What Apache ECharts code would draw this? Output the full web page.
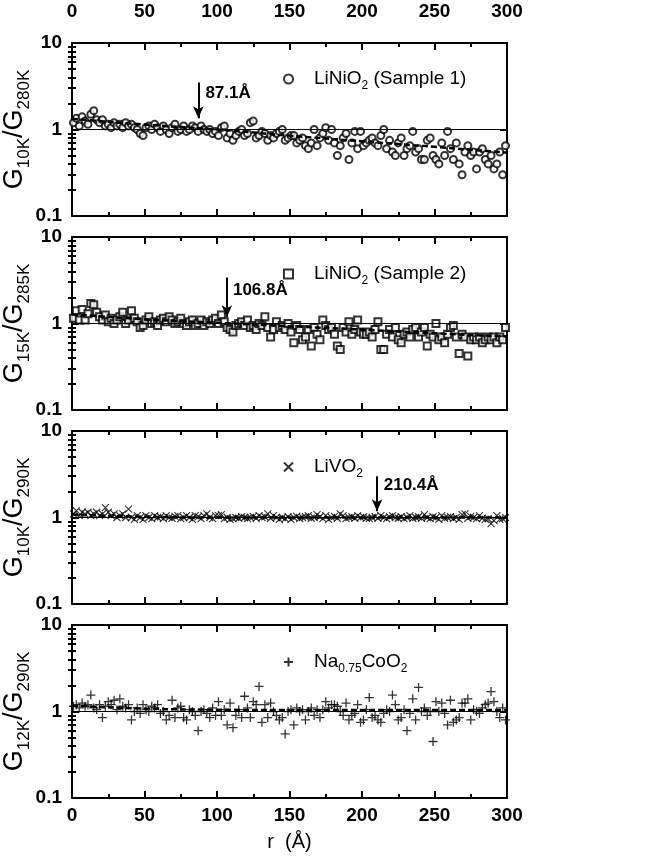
<!DOCTYPE html>
<html><head><meta charset="utf-8">
<script src="https://cdn.jsdelivr.net/npm/echarts@6/dist/echarts.min.js"></script>
<style>html,body{margin:0;padding:0;background:#fff}#c{width:647px;height:863px}</style>
</head><body><div id="c"></div>
<script>
// ---------- data ----------
const rValues = [
  1,3,5,7,9,11,13,15,17,19,
  21,23,25,27,29,31,33,35,37,39,
  41,43,45,47,49,51,53,55,57,59,
  61,63,65,67,69,71,73,75,77,79,
  81,83,85,87,89,91,93,95,97,99,
  101,103,105,107,109,111,113,115,117,119,
  121,123,125,127,129,131,133,135,137,139,
  141,143,145,147,149,151,153,155,157,159,
  161,163,165,167,169,171,173,175,177,179,
  181,183,185,187,189,191,193,195,197,199,
  201,203,205,207,209,211,213,215,217,219,
  221,223,225,227,229,231,233,235,237,239,
  241,243,245,247,249,251,253,255,257,259,
  261,263,265,267,269,271,273,275,277,279,
  281,283,285,287,289,291,293,295,297,299
];
const sample1 = [
  1.2,1.35,1.1,1.4,1.25,1.15,1.5,1.65,1.3,1.2,
  1.3,1.1,1.15,1.05,1.2,1.1,1.15,1.05,1.2,1.1,
  1.15,1.05,1.0,0.9,0.85,1.05,1.1,1.0,1.15,1.05,
  0.95,1.1,1.0,0.9,1.05,1.15,0.95,1.0,1.1,0.95,
  1.0,1.1,1.05,0.95,1.1,1.0,0.95,1.0,0.9,0.95,
  0.85,1.05,1.1,0.8,0.9,0.75,0.85,0.95,1.0,0.85,
  0.9,1.2,1.25,0.8,0.85,0.95,0.9,0.75,0.85,0.8,
  0.9,0.95,1.0,0.75,0.8,0.85,0.85,0.7,0.75,0.8,
  0.65,0.6,0.7,1.0,0.65,0.8,0.9,1.05,0.75,1.0,
  0.7,0.5,0.65,0.8,0.9,0.45,0.7,0.95,0.6,0.95,
  0.65,0.7,0.75,0.8,0.7,0.65,0.85,1.0,0.6,0.75,
  0.55,0.5,0.7,0.8,0.5,0.6,0.65,0.95,0.55,0.6,
  0.45,0.45,0.75,0.8,0.5,0.45,0.4,0.7,0.5,0.95,
  0.6,0.45,0.7,0.4,0.3,0.55,0.65,0.5,0.55,0.35,
  0.55,0.6,0.45,0.4,0.5,0.35,0.4,0.55,0.3,0.65
];
const sample2 = [
  1.15,1.4,1.1,1.45,1.1,1.3,1.7,1.65,1.35,1.2,
  1.1,1.25,1.05,1.15,1.0,1.1,1.2,1.35,1.0,1.1,
  1.4,1.15,1.05,0.9,0.95,1.1,1.2,1.0,1.05,0.95,
  1.1,1.15,1.05,1.2,1.1,1.0,1.05,1.15,1.0,0.95,
  1.05,1.1,0.95,1.0,1.1,0.95,1.05,1.0,1.1,1.15,
  1.0,1.25,1.05,0.9,0.85,0.8,0.95,1.0,1.05,0.95,
  1.1,0.9,0.95,0.85,1.0,0.95,1.2,0.9,0.7,0.85,
  1.05,0.9,0.95,0.85,1.0,0.8,0.6,0.95,0.85,0.65,
  0.7,0.85,0.55,0.9,0.75,0.65,1.1,0.95,0.85,0.9,
  0.75,0.55,0.5,0.9,0.8,1.05,0.75,0.85,1.1,0.8,
  0.75,0.75,0.8,0.7,0.85,1.05,0.5,0.5,0.75,0.85,
  0.7,0.9,0.65,0.6,0.75,0.8,0.7,0.85,0.9,0.7,
  0.8,0.9,0.55,0.75,0.7,1.0,0.65,0.7,0.6,0.75,
  0.9,0.95,0.7,0.45,0.75,0.7,0.42,0.65,0.7,0.65,
  0.7,0.6,0.65,0.7,0.65,0.7,0.6,0.7,0.65,0.9
];
const liVO2 = [
  1.1,1.2,1.05,1.15,1.1,1.15,1.05,1.1,1.15,1.05,
  1.1,1.3,1.15,1.05,1.1,1.0,1.05,1.1,1.0,1.25,
  1.0,0.95,1.05,1.0,0.95,1.05,1.0,0.97,1.05,1.0,
  1.02,0.97,1.05,1.0,0.98,1.03,1.05,0.97,1.0,1.05,
  1.0,0.95,1.05,1.02,0.97,1.05,1.1,1.0,0.97,1.05,
  1.05,1.08,0.97,1.0,0.95,0.97,1.0,0.98,1.02,1.0,
  0.97,1.0,1.03,0.98,1.05,1.0,1.02,1.1,0.98,1.05,
  1.0,0.95,1.0,0.97,1.02,0.95,1.0,1.03,0.97,1.0,
  1.02,1.05,0.98,1.0,1.08,1.02,0.97,1.05,0.95,1.0,
  1.03,0.98,1.1,1.05,0.97,1.0,1.02,0.98,1.05,1.0,
  1.02,0.98,0.97,1.0,1.03,0.98,1.05,1.0,0.97,1.02,
  1.05,1.0,0.98,1.02,0.97,1.0,1.05,0.98,1.0,1.02,
  0.98,1.08,1.0,0.97,1.02,1.0,0.95,1.05,0.98,1.0,
  1.02,0.97,1.0,0.95,1.08,1.1,0.98,1.03,1.0,0.97,
  1.05,0.98,0.95,0.97,0.85,0.92,1.05,0.95,0.97,1.0
];
const naCoO2 = [
  1.15,1.2,1.1,1.25,1.15,1.2,1.55,1.1,1.05,1.2,
  0.85,1.15,1.3,1.2,1.35,1.05,1.4,1.15,1.1,1.2,
  0.8,1.0,1.1,0.95,1.2,1.05,1.0,1.15,1.1,1.2,
  0.95,1.0,0.8,0.9,1.35,0.85,1.1,1.15,0.85,0.8,
  1.05,1.0,0.9,0.6,1.0,1.05,0.95,0.85,1.1,0.9,
  1.3,0.9,1.05,0.7,1.25,0.65,0.9,1.05,0.85,1.5,
  1.1,0.85,1.3,1.2,1.95,0.75,1.2,0.85,1.25,1.0,
  0.9,0.8,0.85,0.55,1.0,1.05,0.7,1.1,1.0,1.05,
  0.8,1.0,1.1,0.9,1.05,0.85,1.05,1.3,1.1,1.2,
  1.2,1.15,1.0,0.9,1.25,0.8,0.9,0.95,1.2,0.75,
  0.8,1.05,1.45,0.85,0.9,0.8,0.75,0.95,1.05,1.0,
  1.55,1.2,0.8,0.85,1.05,0.6,0.95,1.4,0.8,1.9,
  1.0,1.1,0.9,1.0,0.45,1.3,1.0,1.25,0.95,0.7,
  1.35,0.75,0.8,0.85,1.25,1.25,1.4,0.8,1.05,1.0,
  0.95,1.1,1.2,1.25,1.7,1.3,1.0,0.85,1.1,0.8
];
const fitR = [0, 50, 100, 150, 200, 250, 300];
const fit1 = [1.33, 1.14, 1.0, 0.85, 0.73, 0.63, 0.54];
const fit2 = [1.28, 1.12, 1.02, 0.93, 0.85, 0.77, 0.71];
const fit3 = [1.08, 1.02, 1.0, 1.0, 1.0, 1.0, 1.0];
const fit4 = [1.17, 1.08, 1.05, 1.04, 1.04, 1.04, 1.04];
const seriesNames = ['LiNiO2 (Sample 1)', 'LiNiO2 (Sample 2)', 'LiVO2', 'Na0.75CoO2'];
const legendLabels = ['LiNiO{s|2} (Sample 1)', 'LiNiO{s|2} (Sample 2)', 'LiVO{s|2}', 'Na{s|0.75}CoO{s|2}'];
const yTitles = ['G{s|10K}/G{s|280K}', 'G{s|15K}/G{s|285K}', 'G{s|10K}/G{s|290K}', 'G{s|12K}/G{s|290K}'];
const arrowR = [87.1, 106.8, 210.4, null];
const arrowTop = [3.5, 3.4, 3.0, null];
const arrowTip = [1.35, 1.18, 1.18, null];
const arrowTextPos = [[92, 2.6], [111, 2.45], [215, 2.35], null];
const arrowText = ['87.1Å', '106.8Å', '210.4Å', null];
const yMinorTicks = [0.2,0.3,0.4,0.5,0.6,0.7,0.8,0.9,2,3,4,5,6,7,8,9];

// ---------- layout / style ----------
const gridTops = [43, 237, 431, 625];
const gridH = 173;
const legendTops = [61, 256, 449, 644];
const FONT = '"Liberation Sans",Arial,Helvetica,sans-serif';
const valueSets = [sample1, sample2, liVO2, naCoO2];
const fitSets = [fit1, fit2, fit3, fit4];
const symbols = ['emptyCircle', 'emptyRect', 'path://M0,0L10,10M10,0L0,10', 'path://M5,0L5,10M0,5L10,5'];
const symbolSizes = [7, 7, 7, 9];
const strokeWidths = [1, 1, 1.1, 1.3];

const grids = [], xAxes = [], yAxes = [], series = [], legends = [];
const axLine = { show: true, onZero: false, lineStyle: { color: '#000', width: 2 } };

for (let i = 0; i < 4; i++) {
  grids.push({ left: 72, right: 140, top: gridTops[i], height: gridH, containLabel: false, outerBoundsMode: 'none' });
  ['bottom', 'top'].forEach(pos => {
    const showLbl = (pos === 'bottom' && i === 3) || (pos === 'top' && i === 0);
    const ax = {
      gridIndex: i, type: 'value', position: pos, min: 0, max: 300, interval: 50,
      axisLine: axLine,
      axisTick: { show: true, inside: true, length: 7, lineStyle: { color: '#000', width: 2 } },
      minorTick: { show: true, splitNumber: 2, length: 4, lineStyle: { color: '#000', width: 2 } },
      splitLine: { show: false },
      axisLabel: { show: showLbl, margin: pos === 'top' ? 22 : 8, color: '#000', fontSize: 19, fontWeight: 'bold', fontFamily: FONT }
    };
    if (pos === 'bottom' && i === 3) {
      ax.name = 'r  (Å)';
      ax.nameLocation = 'middle';
      ax.nameGap = 34;
      ax.nameMoveOverlap = false;
      ax.nameTextStyle = { color: '#000', fontSize: 20, fontFamily: FONT };
    }
    xAxes.push(ax);
  });
  const yBase = {
    gridIndex: i, type: 'log', logBase: 10, min: 0.1, max: 10, interval: 1,
    splitLine: { show: false }
  };
  yAxes.push(Object.assign({}, yBase, {
    position: 'left', axisLine: axLine,
    axisTick: { show: true, inside: true, length: 7, lineStyle: { color: '#000', width: 2 } },
    axisLabel: {
      show: true, margin: 10, color: '#000', fontSize: 19, fontWeight: 'bold', fontFamily: FONT,
      showMinLabel: true, showMaxLabel: true,
      formatter: v => (v > 5 ? '10' : v > 0.5 ? '1' : '0.1')
    },
    name: yTitles[i], nameLocation: 'middle', nameRotate: 90, nameGap: 39, nameMoveOverlap: false,
    nameTextStyle: {
      color: '#000', fontSize: 27, lineHeight: 36, fontFamily: FONT,
      rich: { s: { fontSize: 17, lineHeight: 17, verticalAlign: 'bottom', fontFamily: FONT, color: '#000' } }
    }
  }));
  yAxes.push(Object.assign({}, yBase, {
    position: 'left', axisLine: { show: false },
    axisTick: { show: true, inside: true, length: 4, customValues: yMinorTicks, lineStyle: { color: '#000', width: 2 } },
    axisLabel: { show: false }
  }));
  yAxes.push(Object.assign({}, yBase, {
    position: 'right', axisLine: axLine,
    axisTick: { show: true, inside: true, length: 7, lineStyle: { color: '#000', width: 2 } },
    axisLabel: { show: false }
  }));
  yAxes.push(Object.assign({}, yBase, {
    position: 'right', axisLine: { show: false },
    axisTick: { show: true, inside: true, length: 4, customValues: yMinorTicks, lineStyle: { color: '#000', width: 2 } },
    axisLabel: { show: false }
  }));

  const xi = i * 2, yi = i * 4;
  const isPath = i >= 2;
  series.push({
    name: seriesNames[i], type: 'scatter', xAxisIndex: xi, yAxisIndex: yi,
    symbol: symbols[i], symbolSize: symbolSizes[i],
    itemStyle: isPath
      ? { color: 'rgba(0,0,0,0)', borderColor: '#000', borderWidth: strokeWidths[i] }
      : { color: '#000', borderColor: '#000', borderWidth: strokeWidths[i] },
    data: rValues.map((r, k) => [r, valueSets[i][k]]),
    z: 3
  });
  const mlData = [[{ coord: [0, 1], symbol: 'none' }, { coord: [300, 1], symbol: 'none' }]];
  const mpData = [];
  if (arrowR[i] !== null) {
    mlData.push([
      { coord: [arrowR[i], arrowTop[i]], symbol: 'none', lineStyle: { width: 2, type: 'solid', color: '#000' } },
      { coord: [arrowR[i], arrowTip[i]], symbol: 'arrow', symbolSize: [8, 12] }
    ]);
    mpData.push({ coord: arrowTextPos[i], value: arrowText[i] });
  }
  series.push({
    name: 'fit' + i, type: 'line', xAxisIndex: xi, yAxisIndex: yi, smooth: true,
    symbol: 'none', z: 4,
    lineStyle: { color: '#000', width: 2.5, type: [6, 3] },
    data: fitR.map((r, k) => [r, fitSets[i][k]]),
    markLine: {
      silent: true, symbol: ['none', 'none'], animation: false,
      lineStyle: { color: '#000', width: 1, type: 'solid' },
      label: { show: false },
      data: mlData
    },
    markPoint: {
      silent: true, symbol: 'circle', symbolSize: 0, animation: false,
      label: { show: true, position: 'right', distance: 0, color: '#000', fontSize: 17, fontWeight: 'bold', fontFamily: FONT, formatter: p => p.value },
      data: mpData
    }
  });
  legends.push({
    data: [seriesNames[i]], left: 278, top: legendTops[i], orient: 'horizontal',
    itemWidth: 9, itemHeight: 9, selectedMode: false,
    formatter: name => legendLabels[seriesNames.indexOf(name)],
    textStyle: {
      color: '#000', fontSize: 19, lineHeight: 26, fontFamily: FONT, padding: [0, 0, 0, 16],
      rich: { s: { fontSize: 12, lineHeight: 12, verticalAlign: 'bottom', fontFamily: FONT, color: '#000' } }
    }
  });
}

const chart = echarts.init(document.getElementById('c'));
chart.setOption({
  backgroundColor: '#fff',
  animation: false,
  grid: grids, xAxis: xAxes, yAxis: yAxes, legend: legends, series: series
});
</script>
</body></html>
